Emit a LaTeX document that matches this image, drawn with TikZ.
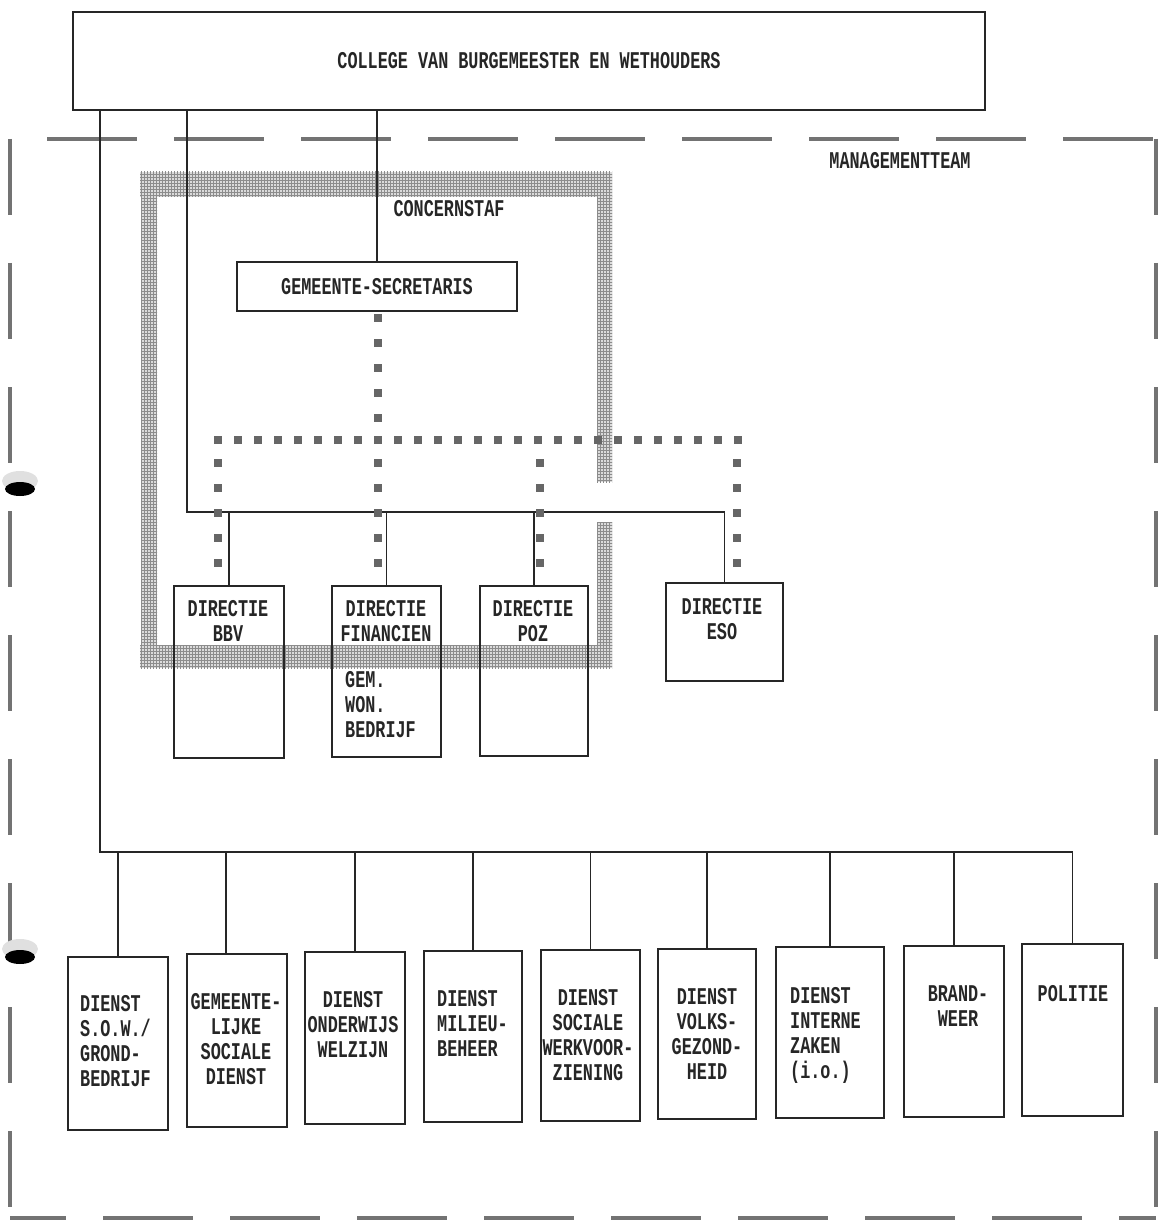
\documentclass[tikz,border=0pt]{standalone}
\usepackage{fontspec}
\newfontfamily\dotmatrix{Liberation Mono}[FakeStretch=0.70]
\usetikzlibrary{patterns}
\begin{document}
\begin{tikzpicture}[x=1pt,y=-1pt,
  ink/.style={draw=black!85, line width=1.8pt},
  orgbox/.style={ink, rectangle, inner sep=0pt, outer sep=0pt, anchor=north west},
  txt/.style={font=\dotmatrix\bfseries\fontsize{24}{25}\selectfont, text=black!85, inner sep=0pt, align=center},
  ltxt/.style={txt, align=left, anchor=north west},
  ctxt/.style={txt, anchor=north},
  conn/.style={draw=black!85, line width=1.4pt},
  sqh/.style={draw=black!60, line width=8pt, dash pattern=on 8pt off 12pt},
  sqv/.style={draw=black!60, line width=8pt, dash pattern=on 8pt off 17pt},
  mth/.style={draw=black!55, line width=4pt, dash pattern=on 90pt off 37pt},
  mtv/.style={draw=black!55, line width=4pt, dash pattern=on 76pt off 48pt},
  band/.style={preaction={fill=black!14}, pattern=grid, pattern color=black!45},
  hole/.style={fill=black}
]
\useasboundingbox (0,0) rectangle (1163,1230);
\fill[white] (0,0) rectangle (1163,1230);

% management team frame
\draw[mth, dash phase=90pt] (10,139) -- (1156,139);
\draw[mth, dash phase=34pt] (10,1218) -- (1156,1218);
\draw[mtv] (10,139) -- (10,1218);
\draw[mtv] (1156,139) -- (1156,1218);
\node[txt] (mt) at (900,161) {MANAGEMENTTEAM};

% binder holes
\fill[black!12] (20,481) ellipse (18 and 10);
\fill[hole] (20,489) ellipse (15 and 7);
\fill[black!12] (20,949) ellipse (18 and 10);
\fill[hole] (20,957) ellipse (15 and 7);

% concernstaf band
\path[band] (140,172) rectangle (612,197);
\path[band] (141,197) rectangle (157,645);
\path[band] (597,197) rectangle (612,482);
\path[band] (597,522) rectangle (612,645);
\path[band] (140,645) rectangle (612,668);
\node[txt] (cs) at (449,209) {CONCERNSTAF};

% top
\node[orgbox, minimum width=912pt, minimum height=98pt, txt] (col) at (73,12) {COLLEGE VAN BURGEMEESTER EN WETHOUDERS};
\node[orgbox, minimum width=280pt, minimum height=49pt, txt] (gs) at (237,262) {GEMEENTE-SECRETARIS};

% directies
\node[orgbox, minimum width=110pt, minimum height=172pt] (bbv) at (174,586) {};
\node[orgbox, minimum width=109pt, minimum height=171pt] (fin) at (332,586) {};
\node[orgbox, minimum width=108pt, minimum height=170pt] (poz) at (480,586) {};
\node[orgbox, minimum width=117pt, minimum height=98pt] (eso) at (666,583) {};
\node[ctxt] (bbvT) at (228,600) {DIRECTIE\\BBV};
\node[ctxt] (finT) at (386,600) {DIRECTIE\\FINANCIEN};
\node[ltxt] (finW) at (345,671) {GEM.\\WON.\\BEDRIJF};
\node[ctxt] (pozT) at (533,600) {DIRECTIE\\POZ};
\node[ctxt] (esoT) at (722,598) {DIRECTIE\\ESO};

% diensten
\node[orgbox, minimum width=100pt, minimum height=173pt] (d1) at (68,957) {};
\node[orgbox, minimum width=100pt, minimum height=173pt] (d2) at (187,954) {};
\node[orgbox, minimum width=100pt, minimum height=172pt] (d3) at (305,952) {};
\node[orgbox, minimum width=98pt, minimum height=171pt] (d4) at (424,951) {};
\node[orgbox, minimum width=99pt, minimum height=171pt] (d5) at (541,950) {};
\node[orgbox, minimum width=98pt, minimum height=170pt] (d6) at (658,949) {};
\node[orgbox, minimum width=108pt, minimum height=171pt] (d7) at (776,947) {};
\node[orgbox, minimum width=100pt, minimum height=171pt] (d8) at (904,946) {};
\node[orgbox, minimum width=101pt, minimum height=172pt] (d9) at (1022,944) {};
\node[ltxt] (d1T) at (80,995) {DIENST\\S.O.W./\\GROND-\\BEDRIJF};
\node[ctxt] (d2T) at (236,993) {GEMEENTE-\\LIJKE\\SOCIALE\\DIENST};
\node[ctxt] (d3T) at (353,991) {DIENST\\ONDERWIJS\\WELZIJN};
\node[ltxt] (d4T) at (437,990) {DIENST\\MILIEU-\\BEHEER};
\node[ctxt] (d5T) at (588,989) {DIENST\\SOCIALE\\WERKVOOR-\\ZIENING};
\node[ctxt] (d6T) at (707,988) {DIENST\\VOLKS-\\GEZOND-\\HEID};
\node[ltxt] (d7T) at (790,987) {DIENST\\INTERNE\\ZAKEN\\(i.o.)};
\node[ctxt] (d8T) at (958,985) {BRAND-\\WEER};
\node[ctxt] (d9T) at (1073,985) {POLITIE};

% line of command from the college
\coordinate (busL) at (100,852);
\coordinate (busR) at (d9.north |- busL);
\coordinate (hL) at (187,512);
\coordinate (hR) at (eso.north |- hL);
\coordinate (d2top) at ([xshift=-11pt]d2.north);
\draw[conn] (col.south -| busL) -- (busL) -- (busR) -- (d9.north);
\foreach \d in {d1,d3,d4,d5,d6,d7,d8}
  \draw[conn] (\d.north |- busL) -- (\d.north);
\draw[conn] (d2top |- busL) -- (d2top);
\draw[conn] (col.south -| hL) -- (hL) -- (hR) -- (eso.north);
\foreach \d in {bbv,fin,poz}
  \draw[conn] (\d.north |- hL) -- (\d.north);
\draw[conn] (col.south -| gs.north) -- (gs.north);

% coordination lines of the gemeente-secretaris
\coordinate (rowL) at (214,440);
\coordinate (rowR) at (742,440);
\coordinate (gsTop) at (378,314);
\coordinate (gsEnd) at (378,422);
\draw[sqv] (gsTop) -- (gsEnd);
\draw[sqh] (rowL) -- (rowR);
\foreach \x/\n in {218/a,378/b,540/c,737/e} {
  \coordinate (s\n1) at (\x,459);
  \coordinate (s\n2) at (\x,571);
  \draw[sqv] (s\n1) -- (s\n2);
}
\end{tikzpicture}
\end{document}
